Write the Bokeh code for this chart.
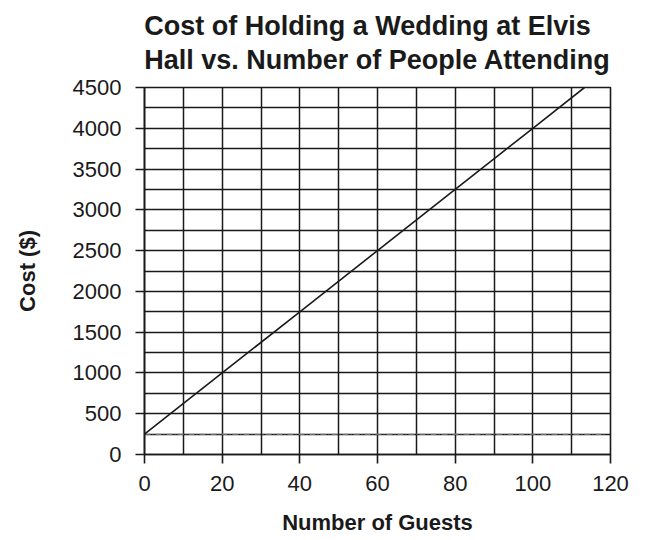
from bokeh.plotting import figure
from bokeh.models import Range1d, FixedTicker
from bokeh.embed import file_html
from bokeh.resources import INLINE

# --- data ---
guests = [0, 20, 40, 60, 80, 100, 113.3]
cost = [250, 1000, 1750, 2500, 3250, 4000, 4500]
base_x = [0, 119]
base_y = [250, 250]
x_ticks = [0, 20, 40, 60, 80, 100, 120]
y_ticks = [0, 500, 1000, 1500, 2000, 2500, 3000, 3500, 4000, 4500]
x_grid = [0, 10, 20, 30, 40, 50, 60, 70, 80, 90, 100, 110, 120]
y_grid = [0, 250, 500, 750, 1000, 1250, 1500, 1750, 2000, 2250, 2500, 2750,
          3000, 3250, 3500, 3750, 4000, 4250, 4500]

FONT = "Liberation Sans"
INK = "#1a1a1a"

p = figure(width=649, height=540, output_backend="svg", toolbar_location=None,
           x_range=Range1d(0, 120), y_range=Range1d(0, 4500),
           min_border_left=144, min_border_right=39, min_border_top=86, min_border_bottom=86,
           title="Cost of Holding a Wedding at Elvis\nHall vs. Number of People Attending")

p.title.align = "center"
p.title.vertical_align = "top"
p.title.text_font = FONT
p.title.text_font_size = "27px"
p.title.text_font_style = "bold"
p.title.text_color = INK
p.title.text_line_height = 1.15
p.title.standoff = 20

p.background_fill_color = "white"
p.border_fill_color = "white"
p.outline_line_color = INK
p.outline_line_width = 1.6

# grids
p.xgrid.ticker = FixedTicker(ticks=x_grid)
p.ygrid.ticker = FixedTicker(ticks=y_grid)
for g in (p.xgrid, p.ygrid):
    g.grid_line_color = INK
    g.grid_line_width = 1.5
    g.grid_line_alpha = 1.0

# axes
p.xaxis.ticker = FixedTicker(ticks=x_ticks)
p.yaxis.ticker = FixedTicker(ticks=y_ticks)
for ax in (p.xaxis, p.yaxis):
    ax.axis_line_color = INK
    ax.axis_line_width = 1.6
    ax.major_tick_line_color = INK
    ax.major_tick_line_width = 1.6
    ax.major_tick_out = 9
    ax.major_tick_in = 0
    ax.minor_tick_line_color = None
    ax.major_label_text_font = FONT
    ax.major_label_text_font_size = "22px"
    ax.major_label_text_color = INK
    ax.axis_label_text_font = FONT
    ax.axis_label_text_font_size = "22px"
    ax.axis_label_text_font_style = "bold"
    ax.axis_label_text_color = INK

p.xaxis.axis_label = "Number of Guests"
p.yaxis.axis_label = "Cost ($)"
p.xaxis.major_label_standoff = 12
p.yaxis.major_label_standoff = 14
p.xaxis.axis_label_standoff = 16
p.yaxis.axis_label_standoff = 30

# faint dotted baseline
p.line(base_x, base_y, line_color="#a0a0a0", line_width=1, line_dash="6 2 1 2")

# cost line
p.line(guests, cost, line_color=INK, line_width=1.6)

open("out.html", "w").write(file_html(p, INLINE))
